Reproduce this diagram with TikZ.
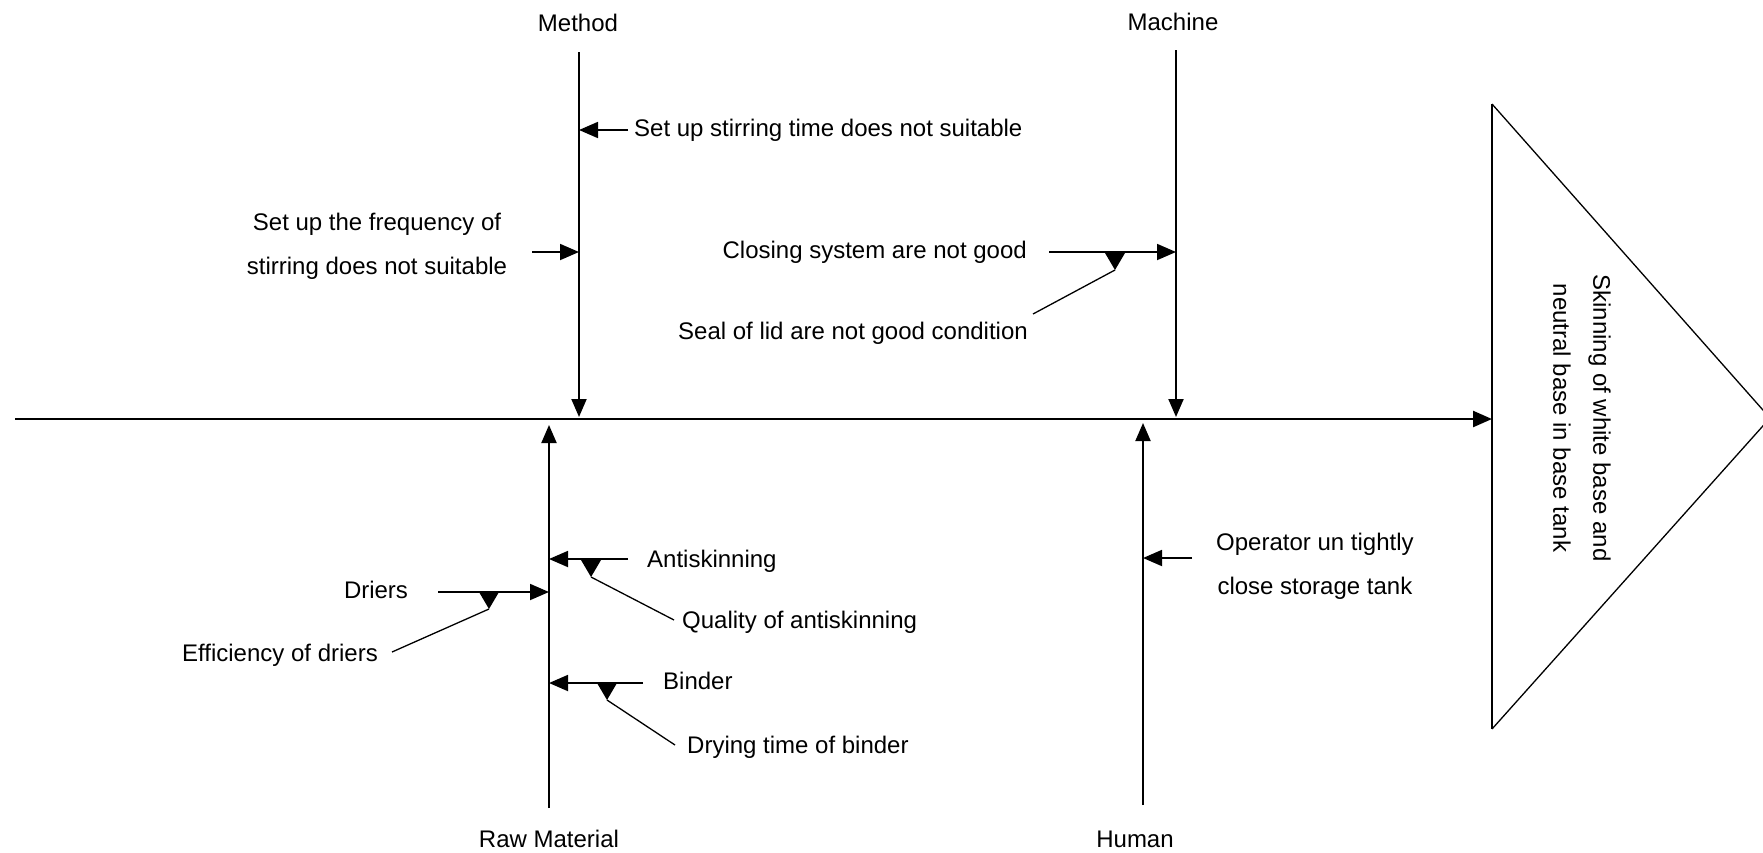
\documentclass[tikz,border=0pt]{standalone}
\usepackage{fontspec}
\setmainfont{Liberation Sans}
\usetikzlibrary{arrows.meta}
\begin{document}
\begin{tikzpicture}[x=1pt,y=-1pt,
  lbl/.style={font=\fontsize{24}{44}\selectfont, inner sep=0pt, text height=17pt, text depth=5pt},
  lbltwo/.style={font=\fontsize{24}{44}\selectfont, inner sep=0pt, align=center},
  spine/.style={line width=2.4pt, -{Triangle[length=19pt,width=16pt]}},
  bone/.style={line width=2pt, -{Triangle[length=18pt,width=15pt]}},
  cause/.style={line width=1.8pt, -{Triangle[length=19pt,width=16pt]}},
  subline/.style={line width=1.3pt},
  pics/drop/.style={code={\fill (0,0) -- (-10,-17) -- (10,-17) -- cycle;}}
]
\clip (0,0) rectangle (1763,852);
\fill[white] (0,0) rectangle (1763,852);

% ---- effect (head of the fish) ----
\coordinate (tritop) at (1492,104);
\coordinate (triapex) at (1770,418);
\coordinate (tribot) at (1492,729);
\draw[line width=1.3pt, line join=miter] (tritop) -- (triapex) -- (tribot);
\draw[line width=2pt] (tritop) -- (tribot);
\node[font=\fontsize{24}{40}\selectfont, inner sep=0pt, align=center, rotate=-90]
  (effect) at (1582,418) {Skinning of white base and\\neutral base in base tank};

% ---- spine ----
\coordinate (tail) at (15,419);
\coordinate (head) at (1492,419);
\draw[spine] (tail) -- (head);

% ---- category labels ----
\node[lbl] (method)  at (578,25)  {Method};
\node[lbl] (machine) at (1173,24) {Machine};
\node[lbl] (rawmat)  at (549,841) {Raw Material};
\node[lbl] (human)   at (1135,841) {Human};

% ---- main bones ----
\coordinate (mtop) at (579,52);   \coordinate (mfoot) at (579,417);
\coordinate (ctop) at (1176,50);  \coordinate (cfoot) at (1176,417);
\coordinate (rbot) at (549,808);  \coordinate (rfoot) at (549,425);
\coordinate (hbot) at (1143,805); \coordinate (hfoot) at (1143,423);
\draw[bone] (mtop) -- (mfoot);
\draw[bone] (ctop) -- (cfoot);
\draw[bone] (rbot) -- (rfoot);
\draw[bone] (hbot) -- (hfoot);

% ---- Method causes ----
\node[lbl, anchor=west] (ms1) at (634,130) {Set up stirring time does not suitable};
\coordinate (ms1s) at (628,130); \coordinate (ms1e) at (579,130);
\draw[cause] (ms1s) -- (ms1e);

\node[lbltwo] (ms2) at (377,246) {Set up the frequency of\\stirring does not suitable};
\coordinate (ms2s) at (532,252); \coordinate (ms2e) at (579,252);
\draw[cause] (ms2s) -- (ms2e);

% ---- Machine causes ----
\node[lbl, anchor=east] (mc1) at (1027,252) {Closing system are not good};
\coordinate (mc1s) at (1049,252); \coordinate (mc1e) at (1176,252);
\draw[cause] (mc1s) -- (mc1e);

\node[lbl, anchor=east] (mc2) at (1028,333) {Seal of lid are not good condition};
\coordinate (mc2s) at (1033,314); \coordinate (mc2e) at (1115,270);
\draw[subline] (mc2s) -- (mc2e);
\pic at (mc2e) {drop};

% ---- Raw Material causes ----
\node[lbl, anchor=west] (rm1) at (647,561) {Antiskinning};
\coordinate (rm1s) at (628,559); \coordinate (rm1e) at (549,559);
\draw[cause] (rm1s) -- (rm1e);

\node[lbl, anchor=west] (rm2) at (682,622) {Quality of antiskinning};
\coordinate (rm2s) at (674,620); \coordinate (rm2e) at (591,577);
\draw[subline] (rm2s) -- (rm2e);
\pic at (rm2e) {drop};

\node[lbl] (rm3) at (376,592) {Driers};
\coordinate (rm3s) at (438,592); \coordinate (rm3e) at (549,592);
\draw[cause] (rm3s) -- (rm3e);

\node[lbl, anchor=east] (rm4) at (378,655) {Efficiency of driers};
\coordinate (rm4s) at (392,652); \coordinate (rm4e) at (489,609);
\draw[subline] (rm4s) -- (rm4e);
\pic at (rm4e) {drop};

\node[lbl, anchor=west] (rm5) at (663,683) {Binder};
\coordinate (rm5s) at (643,683); \coordinate (rm5e) at (549,683);
\draw[cause] (rm5s) -- (rm5e);

\node[lbl, anchor=west] (rm6) at (687,747) {Drying time of binder};
\coordinate (rm6s) at (675,745); \coordinate (rm6e) at (607,700);
\draw[subline] (rm6s) -- (rm6e);
\pic at (rm6e) {drop};

% ---- Human causes ----
\node[lbltwo, anchor=west] (hu1) at (1216,566) {Operator un tightly\\close storage tank};
\coordinate (hu1s) at (1192,558); \coordinate (hu1e) at (1143,558);
\draw[cause] (hu1s) -- (hu1e);
\end{tikzpicture}
\end{document}
